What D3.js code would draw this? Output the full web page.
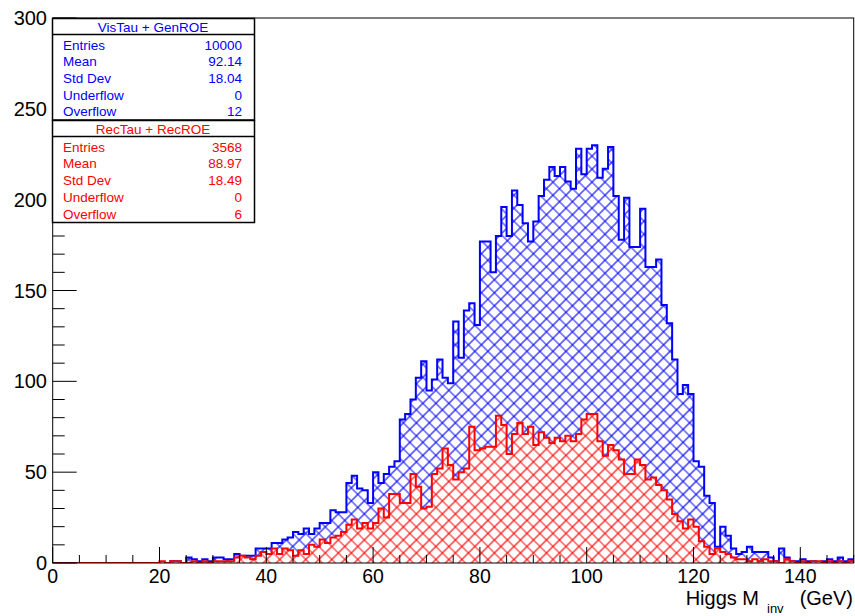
<!DOCTYPE html>
<html><head><meta charset="utf-8">
<script src="https://cdn.jsdelivr.net/npm/d3@7/dist/d3.min.js"></script>
<style>body{margin:0;background:#fff}svg{display:block}</style>
</head><body><svg id="c" width="855" height="616"></svg>
<script>
// ---- data ----
const xDomain = [0, 150];
const yDomain = [0, 300];
const binWidth = 1;
const xTicks = [0, 20, 40, 60, 80, 100, 120, 140];
const yTicks = [0, 50, 100, 150, 200, 250, 300];
const genCounts = [
0,0,0,0,0,0,0,0,0,0,
0,0,0,0,0,0,0,0,0,0,
0,0,1,1,0,3,2,1,2,1,
3,3,2,2,5,4,4,4,8,8,
8,11,11,13,14,17,16,19,16,19,
22,22,29,28,28,44,48,41,40,33,
50,44,49,53,56,79,82,90,102,111,
95,101,112,102,99,133,113,139,143,131,
177,177,160,180,196,180,205,197,187,177,
188,202,211,218,213,218,210,206,228,214,
228,230,212,217,229,202,178,201,174,174,
195,163,163,167,142,132,112,93,98,93,
56,53,37,33,9,20,15,8,5,6,
9,6,6,6,3,1,8,3,1,1,
2,1,1,0,1,2,1,3,1,2];
const recCounts = [
0,0,0,0,0,0,0,0,0,0,
0,0,0,0,0,0,0,0,0,0,
1,0,1,1,0,0,1,0,1,0,
1,1,1,1,3,4,3,2,4,6,
5,8,5,8,7,4,7,5,10,9,
13,11,14,15,17,21,24,19,22,19,
22,30,25,38,38,33,33,49,42,30,
31,49,52,63,54,46,50,52,75,62,
63,64,64,81,76,60,71,77,71,75,
65,72,69,66,69,67,70,67,71,79,
82,82,67,59,65,62,57,49,49,57,
54,46,47,43,40,35,27,23,19,24,
20,12,9,5,8,6,5,3,2,2,
1,2,1,2,1,1,0,2,1,0,
1,0,1,1,0,1,0,1,0,1];
const statLabels = ["Entries", "Mean", "Std Dev", "Underflow", "Overflow"];
const genTitle = "VisTau + GenROE";
const genStats = ["10000", "92.14", "18.04", "0", "12"];
const recTitle = "RecTau + RecROE";
const recStats = ["3568", "88.97", "18.49", "0", "6"];
const genColor = "#0000ff";
const recColor = "#ff0000";

// ---- layout ----
const svg = d3.select("#c");
const L = 52.7, R = 853.7, T = 18, B = 563;
const x = d3.scaleLinear().domain(xDomain).range([L, R]);
const y = d3.scaleLinear().domain(yDomain).range([B, T]);
const font = "'Liberation Sans', Arial, Helvetica, sans-serif";

// hatch patterns (crossed diagonal)
const defs = svg.append("defs");
const s = 9.2;
function hatch(id, color) {
  const p = defs.append("pattern").attr("id", id)
    .attr("patternUnits", "userSpaceOnUse")
    .attr("width", s).attr("height", s)
    .attr("patternTransform", "rotate(45)");
  p.append("path").attr("d", `M0,${s/2}H${s}M${s/2},0V${s}`)
    .attr("stroke", color).attr("stroke-width", 1.1).attr("fill", "none");
}
hatch("hGen", genColor);
hatch("hRec", recColor);
defs.append("clipPath").attr("id", "frameClip").append("rect")
  .attr("x", L).attr("y", T).attr("width", R - L).attr("height", B - T);

function histPoints(counts) {
  const pts = [[xDomain[0], 0]];
  counts.forEach((c, i) => {
    const x0 = xDomain[0] + i * binWidth;
    pts.push([x0, c]);
    pts.push([x0 + binWidth, c]);
  });
  pts.push([xDomain[0] + counts.length * binWidth, 0]);
  return pts;
}
const line = d3.line().x(d => x(d[0])).y(d => y(d[1]));

const plot = svg.append("g").attr("clip-path", "url(#frameClip)");
function drawHist(counts, pat, color, underlay) {
  const pts = histPoints(counts);
  if (underlay) plot.append("path").attr("d", line(pts) + "Z").attr("fill", "#fff");
  plot.append("path").attr("d", line(pts) + "Z")
    .attr("fill", `url(#${pat})`).attr("stroke", "none");
  plot.append("path").attr("d", line(pts))
    .attr("fill", "none").attr("stroke", color).attr("stroke-width", 2)
    .attr("stroke-linejoin", "miter");
}
drawHist(genCounts, "hGen", genColor, false);
drawHist(recCounts, "hRec", recColor, true);

// frame
svg.append("rect").attr("x", L).attr("y", T).attr("width", R - L).attr("height", B - T)
  .attr("fill", "none").attr("stroke", "#000").attr("stroke-width", 1);

// axis ticks
const axG = svg.append("g").attr("stroke", "#000").attr("stroke-width", 1);
for (let v = xDomain[0]; v <= xDomain[1]; v += 5) {
  const len = v % 20 === 0 ? 16 : 8;
  axG.append("line").attr("x1", x(v)).attr("x2", x(v)).attr("y1", B).attr("y2", B - len);
}
for (let v = yDomain[0]; v <= yDomain[1]; v += 10) {
  const len = v % 50 === 0 ? 24 : 12;
  axG.append("line").attr("x1", L).attr("x2", L + len).attr("y1", y(v)).attr("y2", y(v));
}
svg.append("g").selectAll("text").data(xTicks).join("text")
  .attr("x", d => x(d)).attr("y", 582.5).attr("text-anchor", "middle")
  .attr("font-family", font).attr("font-size", 19.5).attr("fill", "#000").text(d => d);
svg.append("g").selectAll("text").data(yTicks).join("text")
  .attr("x", 47).attr("y", d => y(d) + 7).attr("text-anchor", "end")
  .attr("font-family", font).attr("font-size", 20).attr("fill", "#000").text(d => d);

// x title
svg.append("text").attr("x", 759).attr("y", 605).attr("text-anchor", "end")
  .attr("font-family", font).attr("font-size", 20).text("Higgs M");
svg.append("text").attr("x", 767).attr("y", 612.5).attr("text-anchor", "start")
  .attr("font-family", font).attr("font-size", 13).text("inv");
svg.append("text").attr("x", 853).attr("y", 605).attr("text-anchor", "end")
  .attr("font-family", font).attr("font-size", 20).text("(GeV)");

// stats boxes
function statBox(top, bottom, divider, title, titleBase, values, color, rowBases) {
  const g = svg.append("g");
  g.append("rect").attr("x", 52.5).attr("y", top).attr("width", 202).attr("height", bottom - top)
    .attr("fill", "#fff").attr("stroke", "#000").attr("stroke-width", 1.5);
  g.append("line").attr("x1", 52.5).attr("x2", 254.5).attr("y1", divider).attr("y2", divider)
    .attr("stroke", "#000").attr("stroke-width", 1.5);
  g.append("text").attr("x", 153).attr("y", titleBase).attr("text-anchor", "middle")
    .attr("font-family", font).attr("font-size", 13.5).attr("fill", color).text(title);
  statLabels.forEach((lab, i) => {
    g.append("text").attr("x", 63).attr("y", rowBases[i]).attr("font-family", font)
      .attr("font-size", 13.5).attr("fill", color).text(lab);
    g.append("text").attr("x", 242).attr("y", rowBases[i]).attr("text-anchor", "end")
      .attr("font-family", font).attr("font-size", 13.5).attr("fill", color).text(values[i]);
  });
}
statBox(18.5, 120, 34.5, genTitle, 32, genStats, genColor, [49.5, 66, 83, 99.5, 116]);
statBox(120.5, 222.5, 136.5, recTitle, 134, recStats, recColor, [151.5, 168, 185, 202, 218.5]);
</script></body></html>
